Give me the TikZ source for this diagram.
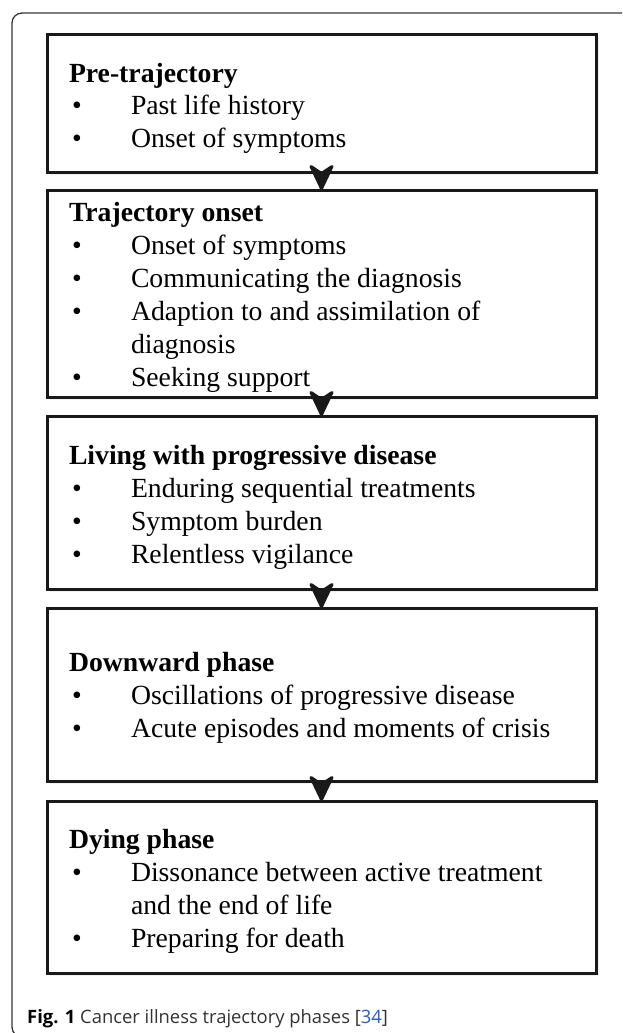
\documentclass[tikz,border=0pt]{standalone}
\usepackage{fontspec}
\setmainfont{Liberation Serif}
\newfontfamily\capfont{Open Sans}
\usetikzlibrary{shadows}
\definecolor{linkblue}{RGB}{40,90,210}
\definecolor{boxline}{RGB}{25,25,25}
\definecolor{framegray}{RGB}{55,55,55}
\definecolor{captext}{RGB}{50,50,50}
\tikzset{
  phasebox/.style={draw=boxline, line width=3pt, fill=white, inner sep=0pt, outer sep=0pt,
    minimum width=549pt, anchor=north west,
    drop shadow={opacity=0.12, shadow xshift=2.5pt, shadow yshift=-2.5pt}},
  txt/.style={inner sep=0pt, outer sep=0pt, anchor=base west, font=\fontsize{27.7}{33}\selectfont},
  head/.style={txt, font=\fontsize{27.7}{33}\selectfont\bfseries},
  phaseline/.style={draw=boxline, line width=2pt},
  chevron/.style={draw=boxline, fill=boxline, line width=3pt, line join=round},
  frame/.style={draw=framegray, line width=1.3pt, rounded corners=10pt}
}
\newcommand{\phasearrow}[2]{%
  \draw[phaseline] (#1.south) -- (#2.north);
  \filldraw[chevron] ([yshift=1.5pt]#2.north) -- +(-10.5,-22) -- +(0,-15) -- +(10.5,-22) -- cycle;}
\begin{document}
\begin{tikzpicture}[x=1pt,y=-1pt]
\useasboundingbox (0,0) rectangle (622,1033);
\begin{scope}
  \clip (0,0) rectangle (622,1033);
  \draw[frame] (640,13) -- (12,13) -- (12,1037) -- (120,1037);
\end{scope}
% boxes
\node[phasebox, minimum height=137pt] (b1) at (47,35) {};
\node[phasebox, minimum height=207pt] (b2) at (47,190) {};
\node[phasebox, minimum height=173pt] (b3) at (47,416) {};
\node[phasebox, minimum height=173pt] (b4) at (47,608) {};
\node[phasebox, minimum height=172pt] (b5) at (47,801) {};
% arrows
\phasearrow{b1}{b2}
\phasearrow{b2}{b3}
\phasearrow{b3}{b4}
\phasearrow{b4}{b5}
% box 1
\node[head] (h1) at (69,82) {Pre-trajectory};
\node[txt] (d11) at (72,114) {•};
\node[txt] (t11) at (131,114) {Past life history};
\node[txt] (d12) at (72,147) {•};
\node[txt] (t12) at (131,147) {Onset of symptoms};
% box 2
\node[head] (h2) at (69,221) {Trajectory onset};
\node[txt] (d21) at (72,254) {•};
\node[txt] (t21) at (131,254) {Onset of symptoms};
\node[txt] (d22) at (72,287) {•};
\node[txt] (t22) at (131,287) {Communicating the diagnosis};
\node[txt] (d23) at (72,320) {•};
\node[txt] (t23) at (131,320) {Adaption to and assimilation of};
\node[txt] (t23b) at (131,353) {diagnosis};
\node[txt] (d24) at (72,386) {•};
\node[txt] (t24) at (131,386) {Seeking support};
% box 3
\node[head] (h3) at (69,464) {Living with progressive disease};
\node[txt] (d31) at (72,497) {•};
\node[txt] (t31) at (131,497) {Enduring sequential treatments};
\node[txt] (d32) at (72,530) {•};
\node[txt] (t32) at (131,530) {Symptom burden};
\node[txt] (d33) at (72,563) {•};
\node[txt] (t33) at (131,563) {Relentless vigilance};
% box 4
\node[head] (h4) at (69,671) {Downward phase};
\node[txt] (d41) at (72,704) {•};
\node[txt] (t41) at (131,704) {Oscillations of progressive disease};
\node[txt] (d42) at (72,737) {•};
\node[txt] (t42) at (131,737) {Acute episodes and moments of crisis};
% box 5
\node[head] (h5) at (69,848) {Dying phase};
\node[txt] (d51) at (72,881) {•};
\node[txt] (t51) at (131,881) {Dissonance between active treatment};
\node[txt] (t51b) at (131,914) {and the end of life};
\node[txt] (d52) at (72,947) {•};
\node[txt] (t52) at (131,947) {Preparing for death};
% caption
\node[inner sep=0pt, anchor=base west, text=captext, font=\capfont\fontsize{18.4}{22}\selectfont] (cap) at (27,1023)
  {\textcolor{black}{\textbf{Fig. 1}} Cancer illness trajectory phases [\textcolor{linkblue}{34}]};
\end{tikzpicture}
\end{document}
